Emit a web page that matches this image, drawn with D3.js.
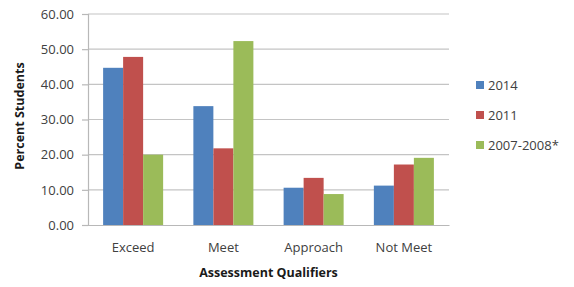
<!DOCTYPE html>
<html>
<head>
<meta charset="utf-8">
<script src="https://cdn.jsdelivr.net/npm/d3@7"></script>
<style>
  body { margin: 0; background: #fff; }
  svg text { font-family: "Open Sans", "Lato", sans-serif; }
</style>
</head>
<body>
<svg id="chart" width="574" height="287"></svg>
<script>
// chart data
var categories = ["Exceed", "Meet", "Approach", "Not Meet"];
var seriesNames = ["2014", "2011", "2007-2008*"];
var values2014 = [44.7, 33.8, 10.6, 11.2];
var values2011 = [47.8, 21.8, 13.4, 17.2];
var values2007 = [20.0, 52.3, 8.8, 19.1];
var yTicks = [0, 10, 20, 30, 40, 50, 60];
var colors = ["#4F81BD", "#C0504D", "#9BBB59"];

var allSeries = [values2014, values2011, values2007];

var margin = { top: 14, right: 125, bottom: 62, left: 88 },
    width = 574 - margin.left - margin.right,
    height = 287 - margin.top - margin.bottom;

var svg = d3.select("#chart");
var g = svg.append("g")
    .attr("transform", "translate(" + margin.left + "," + margin.top + ")");

var x0 = d3.scaleBand().domain(categories).range([0, width])
    .paddingInner(0.335).paddingOuter(0.1675);
var x1 = d3.scaleBand().domain(seriesNames).range([0, x0.bandwidth()]);
var y = d3.scaleLinear().domain([0, 60]).range([height, 0]);

// gridlines
g.selectAll(".grid")
    .data(yTicks.slice(1))
    .enter().append("line")
    .attr("x1", 0).attr("x2", width)
    .attr("y1", function (d) { return y(d); })
    .attr("y2", function (d) { return y(d); })
    .attr("stroke", "#c4c4c4").attr("stroke-width", 1.2);

// y axis
var yAxis = g.append("g")
    .call(d3.axisLeft(y).tickValues(yTicks).tickSize(6).tickPadding(8)
        .tickFormat(d3.format(".2f")));
yAxis.select(".domain").attr("stroke", "#b8b8b8").attr("stroke-width", 1.2);
yAxis.selectAll(".tick line").attr("stroke", "#b8b8b8").attr("stroke-width", 1.2);
yAxis.selectAll("text").attr("fill", "#404040").style("font-size", "13px");

// bars
var groups = g.selectAll(".cat")
    .data(categories)
    .enter().append("g")
    .attr("transform", function (d) { return "translate(" + x0(d) + ",0)"; });

groups.selectAll("rect")
    .data(function (d, i) {
        return seriesNames.map(function (s, j) {
            return { series: s, value: allSeries[j][i], color: colors[j] };
        });
    })
    .enter().append("rect")
    .attr("x", function (d) { return x1(d.series); })
    .attr("y", function (d) { return y(d.value); })
    .attr("width", x1.bandwidth())
    .attr("height", function (d) { return height - y(d.value); })
    .attr("fill", function (d) { return d.color; });

// x axis
var xAxis = g.append("g")
    .attr("transform", "translate(0," + height + ")")
    .call(d3.axisBottom(x0).tickSize(0).tickPadding(18));
xAxis.select(".domain").attr("stroke", "#b8b8b8").attr("stroke-width", 1.2);
xAxis.selectAll("text").attr("fill", "#404040").style("font-size", "13px");

// axis titles
g.append("text")
    .attr("x", width / 2)
    .attr("y", height + 52)
    .attr("text-anchor", "middle")
    .style("font-size", "12.5px")
    .attr("font-weight", "bold")
    .attr("fill", "#1a1a1a")
    .text("Assessment Qualifiers");

svg.append("text")
    .attr("transform", "rotate(-90)")
    .attr("x", -116)
    .attr("y", 24)
    .attr("text-anchor", "middle")
    .style("font-size", "12.5px")
    .attr("font-weight", "bold")
    .attr("fill", "#1a1a1a")
    .text("Percent Students");

// legend
var legend = svg.selectAll(".legend")
    .data(seriesNames)
    .enter().append("g")
    .attr("transform", function (d, i) { return "translate(476," + (85 + i * 30) + ")"; });

legend.append("rect")
    .attr("x", 0).attr("y", -4)
    .attr("width", 8).attr("height", 8)
    .attr("fill", function (d, i) { return colors[i]; });

legend.append("text")
    .attr("x", 12).attr("y", 0)
    .attr("dy", "0.35em")
    .style("font-size", "13px")
    .attr("fill", "#404040")
    .text(function (d) { return d; });
</script>
</body>
</html>
